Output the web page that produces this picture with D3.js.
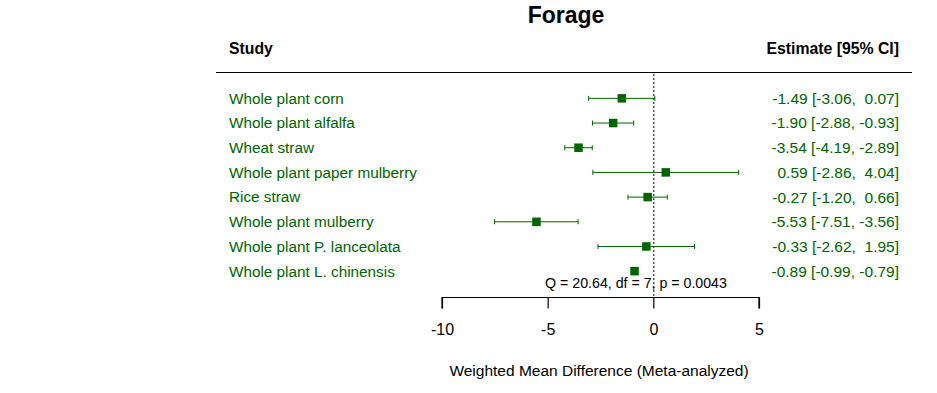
<!DOCTYPE html>
<html>
<head>
<meta charset="utf-8">
<script src="https://cdn.jsdelivr.net/npm/d3@7"></script>
<style>
  body { margin: 0; background: #fff; }
  svg { display: block; font-family: "Liberation Sans", Arial, sans-serif; }
  .est { white-space: pre; }
</style>
</head>
<body>
<div id="chart"></div>
<script>
// Forest plot: forage studies
const studies = [
    'Whole plant corn',
    'Whole plant alfalfa',
    'Wheat straw',
    'Whole plant paper mulberry',
    'Rice straw',
    'Whole plant mulberry',
    'Whole plant P. lanceolata',
    'Whole plant L. chinensis'
];
const estimates = [-1.49, -1.90, -3.54, 0.59, -0.27, -5.53, -0.33, -0.89];
const ciLower = [-3.06, -2.88, -4.19, -2.86, -1.20, -7.51, -2.62, -0.99];
const ciUpper = [0.07, -0.93, -2.89, 4.04, 0.66, -3.56, 1.95, -0.79];
const xTicks = [-10, -5, 0, 5];
const hetText = 'Q = 20.64, df = 7, p = 0.0043';

const width = 937, height = 393;
const green = '#006400';

const svg = d3.select('#chart').append('svg')
    .attr('width', width)
    .attr('height', height);

const x = d3.scaleLinear().domain([-10, 5]).range([442, 759]);
const y = d3.scaleBand().domain(studies).range([86, 283.5]);
const rowY = d => y(d) + y.bandwidth() / 2;

const rows = studies.map((s, i) => ({
    study: s, est: estimates[i], lo: ciLower[i], hi: ciUpper[i]
}));

const fmt = v => d3.format('.2f')(v).replace('−', '-');
const pad = v => (v < 0 ? '' : ' ') + fmt(v);

// Title and headers
svg.append('text')
    .attr('x', 566).attr('y', 23)
    .attr('text-anchor', 'middle')
    .style('font-size', '23px').style('font-weight', 'bold')
    .text('Forage');

svg.append('text')
    .attr('x', 229).attr('y', 54)
    .style('font-size', '15.8px').style('font-weight', 'bold')
    .text('Study');

svg.append('text')
    .attr('x', 899).attr('y', 54)
    .attr('text-anchor', 'end')
    .style('font-size', '15.8px').style('font-weight', 'bold')
    .text('Estimate [95% CI]');

svg.append('line')
    .attr('x1', 216).attr('x2', 912)
    .attr('y1', 72.5).attr('y2', 72.5)
    .attr('stroke', '#000').attr('stroke-width', 1.2);

// Reference line at zero
svg.append('line')
    .attr('x1', x(0) + 0.5).attr('x2', x(0) + 0.5)
    .attr('y1', 74).attr('y2', 297)
    .attr('stroke', '#000').attr('stroke-width', 1)
    .attr('stroke-dasharray', '2,2');

// CI lines
const g = svg.append('g');
g.selectAll('line.ci')
    .data(rows).enter().append('line')
    .attr('class', 'ci')
    .attr('x1', d => x(d.lo)).attr('x2', d => x(d.hi))
    .attr('y1', d => rowY(d.study)).attr('y2', d => rowY(d.study))
    .attr('stroke', green).attr('stroke-width', 1);

['lo', 'hi'].forEach(k => {
    g.selectAll('line.cap-' + k)
        .data(rows).enter().append('line')
        .attr('class', 'cap-' + k)
        .attr('x1', d => x(d[k])).attr('x2', d => x(d[k]))
        .attr('y1', d => rowY(d.study) - 2.5).attr('y2', d => rowY(d.study) + 2.5)
        .attr('stroke', green).attr('stroke-width', 1);
});

const sq = 8.5;
g.selectAll('rect.pt')
    .data(rows).enter().append('rect')
    .attr('class', 'pt')
    .attr('x', d => x(d.est) - sq / 2)
    .attr('y', d => rowY(d.study) - sq / 2)
    .attr('width', sq).attr('height', sq)
    .attr('fill', green);

// Study labels
svg.selectAll('text.study')
    .data(rows).enter().append('text')
    .attr('class', 'study')
    .attr('x', 229).attr('y', d => rowY(d.study))
    .attr('dy', '0.35em')
    .attr('fill', green)
    .style('font-size', '15.3px')
    .text(d => d.study);

// Estimates
svg.selectAll('text.est')
    .data(rows).enter().append('text')
    .attr('class', 'est')
    .attr('x', 899).attr('y', d => rowY(d.study))
    .attr('dy', '0.35em')
    .attr('text-anchor', 'end')
    .attr('fill', green)
    .style('font-size', '15.5px')
    .text(d => `${fmt(d.est)} [${fmt(d.lo)}, ${pad(d.hi)}]`);

// Heterogeneity text
svg.append('text')
    .attr('x', 636).attr('y', 283)
    .attr('dy', '0.35em')
    .attr('text-anchor', 'middle')
    .style('font-size', '14.2px')
    .text(hetText);

// X axis
const axis = d3.axisBottom(x)
    .tickValues(xTicks)
    .tickSize(11)
    .tickPadding(15)
    .tickFormat(d => String(d));

const axG = svg.append('g')
    .attr('transform', 'translate(0,297.5)')
    .call(axis);
axG.select('.domain').attr('stroke', '#000').attr('stroke-width', 1.2)
    .attr('d', `M${x(-10)},11V0H${x(5)}V11`);
axG.selectAll('.tick line').attr('stroke', '#000').attr('stroke-width', 1.2);
axG.selectAll('.tick text')
    .style('font-size', '16px')
    .style('font-family', '"Liberation Sans", Arial, sans-serif')
    .attr('fill', '#000');

svg.append('text')
    .attr('x', 599).attr('y', 371)
    .attr('dy', '0.35em')
    .attr('text-anchor', 'middle')
    .style('font-size', '15.5px')
    .text('Weighted Mean Difference (Meta-analyzed)');
</script>
</body>
</html>
